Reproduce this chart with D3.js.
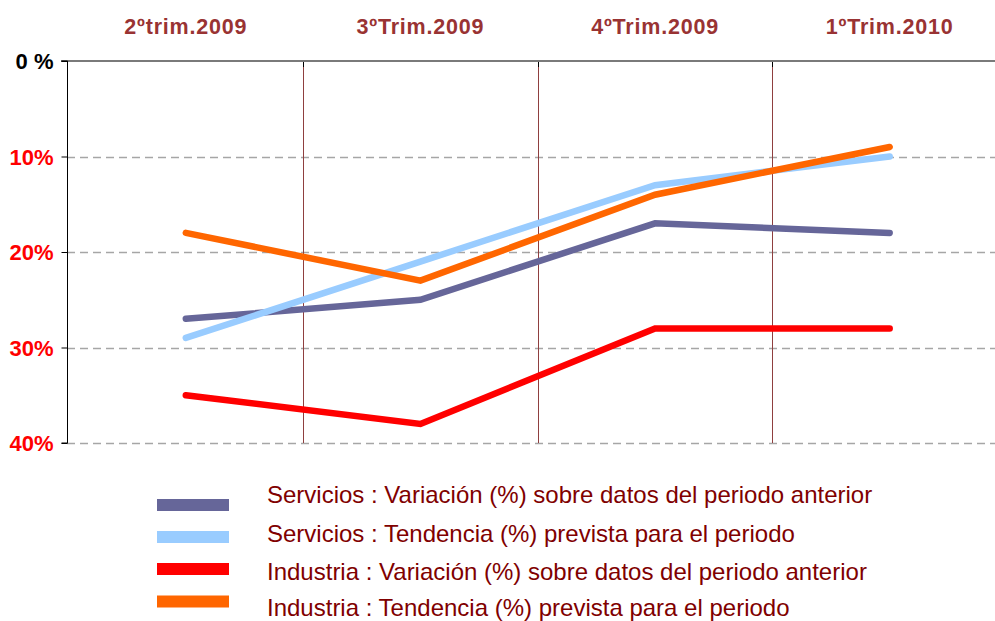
<!DOCTYPE html>
<html><head><meta charset="utf-8">
<script src="https://cdn.jsdelivr.net/npm/d3@7/dist/d3.min.js"></script>
<style>body{margin:0;background:#fff}svg{display:block;font-family:Arial,"Liberation Sans",sans-serif}</style>
</head><body><svg id="c" width="995" height="621"></svg>
<script>
const categories = ["2ºtrim.2009","3ºTrim.2009","4ºTrim.2009","1ºTrim.2010"];
const serviciosVariacion = [27, 25, 17, 18];
const serviciosTendencia = [29, 21, 13, 10];
const industriaVariacion = [35, 38, 28, 28];
const industriaTendencia = [18, 23, 14, 9];
const yTicks = [0, 10, 20, 30, 40];
const yTickLabels = ["0 %", "10%", "20%", "30%", "40%"];
const seriesNames = [
  "Servicios : Variación (%) sobre datos del periodo anterior",
  "Servicios : Tendencia (%) prevista para el periodo",
  "Industria : Variación (%) sobre datos del periodo anterior",
  "Industria : Tendencia (%) prevista para el periodo"
];
const seriesColors = ["#666699", "#99CCFF", "#FF0000", "#FF6600"];
const seriesData = [serviciosVariacion, serviciosTendencia, industriaVariacion, industriaTendencia];

const svg = d3.select("#c");
const x = d3.scaleBand().domain(categories).range([68.5, 1007]);
const y = d3.scaleLinear().domain([0, 40]).range([61, 443]);
const axisX = 67;

// horizontal dashed gridlines
svg.append("g").selectAll("line").data(yTicks.filter(d => d > 0)).join("line")
  .attr("x1", axisX).attr("x2", 995)
  .attr("y1", d => Math.round(y(d)) + 0.5).attr("y2", d => Math.round(y(d)) + 0.5)
  .attr("stroke", "#a6a6a6").attr("stroke-width", 1.3).attr("stroke-dasharray", "8,5");

// vertical category separators
const seps = categories.slice(1).map(c => x(c));
svg.append("g").selectAll("line").data(seps).join("line")
  .attr("x1", d => Math.round(d) + 0.5).attr("x2", d => Math.round(d) + 0.5)
  .attr("y1", y(0)).attr("y2", y(40))
  .attr("stroke", "#8f3f3f").attr("stroke-width", 1);
svg.append("g").selectAll("line").data(seps).join("line")
  .attr("x1", d => Math.round(d) + 0.5).attr("x2", d => Math.round(d) + 0.5)
  .attr("y1", y(0)).attr("y2", y(0) + 6)
  .attr("stroke", "#000").attr("stroke-width", 1);

// top line (0%)
svg.append("line").attr("x1", 61).attr("x2", 995).attr("y1", y(0)).attr("y2", y(0))
  .attr("stroke", "#7a7a7a").attr("stroke-width", 2);

// y axis
const yAxis = d3.axisLeft(y).tickValues(yTicks).tickSize(6).tickFormat((d, i) => yTickLabels[i]);
const ga = svg.append("g").attr("transform", `translate(${axisX + 0.5},0)`).call(yAxis);
ga.select(".domain").attr("stroke", "#000").attr("d", `M-6,${y(0)}H0V${y(40)}H-6`);
ga.selectAll(".tick line").attr("stroke", "#000");
ga.selectAll(".tick text").attr("x", -14).attr("dy", "0.36em")
  .attr("font-size", 22).attr("font-weight", "bold")
  .attr("font-family", "Arial, 'Liberation Sans', sans-serif")
  .attr("fill", d => d === 0 ? "#000" : "#FF0000");

// category labels
svg.append("g").selectAll("text").data(categories).join("text")
  .attr("x", d => x(d) + x.bandwidth() / 2).attr("y", 34)
  .attr("text-anchor", "middle").attr("font-size", 21.5).attr("font-weight", "bold")
  .attr("letter-spacing", 0.8).attr("fill", "#993333").text(d => d);

// lines
const line = d3.line().x((d, i) => x(categories[i]) + x.bandwidth() / 2).y(d => y(d));
svg.append("g").selectAll("path").data(seriesData).join("path")
  .attr("d", d => line(d)).attr("fill", "none")
  .attr("stroke", (d, i) => seriesColors[i]).attr("stroke-width", 6.5)
  .attr("stroke-linecap", "round").attr("stroke-linejoin", "miter");

// legend
const swatchY = [505, 537, 569, 601.5];
const textY = [503, 542, 580, 616];
const lg = svg.append("g");
lg.selectAll("rect").data(seriesNames).join("rect")
  .attr("x", 157).attr("y", (d, i) => swatchY[i] - 6).attr("width", 72).attr("height", 12)
  .attr("fill", (d, i) => seriesColors[i]);
lg.selectAll("text").data(seriesNames).join("text")
  .attr("x", 267).attr("y", (d, i) => textY[i])
  .attr("font-size", 24).attr("fill", "#800000").text(d => d);
</script></body></html>
